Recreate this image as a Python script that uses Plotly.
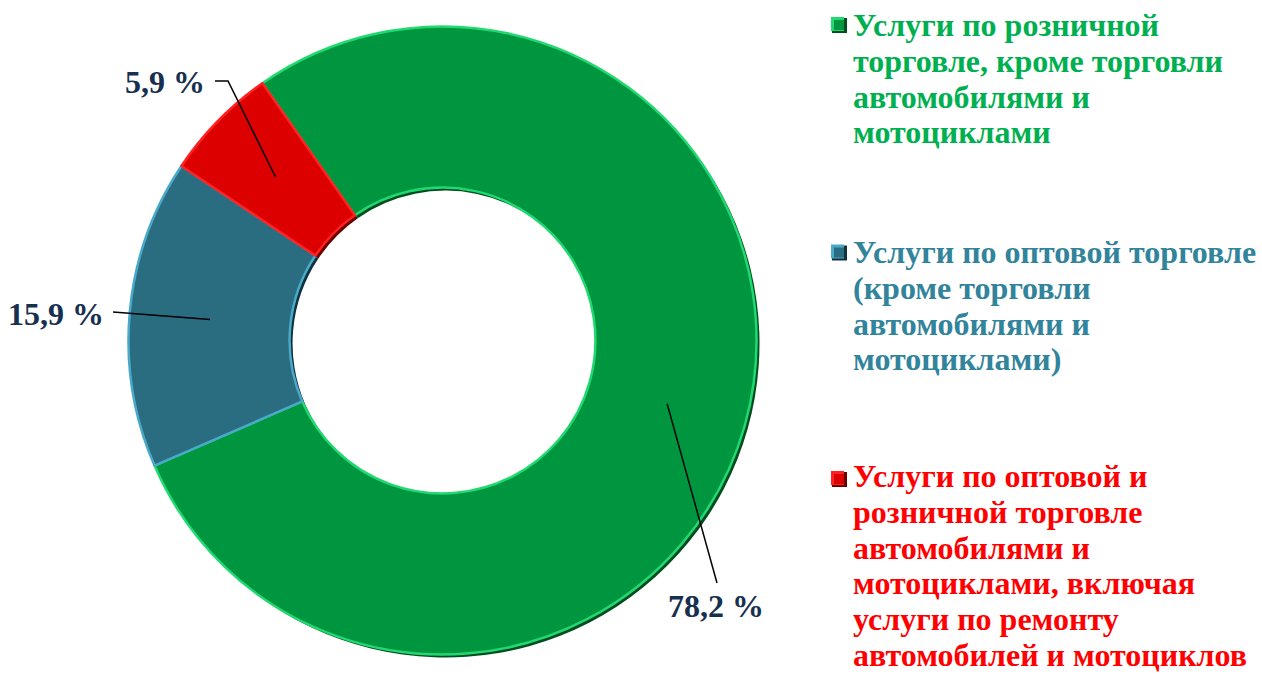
import plotly.graph_objects as go
import math

# ---- data ----
categories = [
    "Услуги по розничной<br>торговле, кроме торговли<br>автомобилями и<br>мотоциклами",
    "Услуги по оптовой торговле<br>(кроме торговли<br>автомобилями и<br>мотоциклами)",
    "Услуги по оптовой и<br>розничной торговле<br>автомобилями и<br>мотоциклами, включая<br>услуги по ремонту<br>автомобилей и мотоциклов",
]
values = [78.2, 15.9, 5.9]

slice_colors = ["#009640", "#2A6C80", "#DC0000"]
edge_colors = ["#22D870", "#4AA9C9", "#FF2020"]
shadow_colors = ["#004d20", "#0f323d", "#6a0000"]
text_colors = ["#00B050", "#31849B", "#FF0000"]
label_color = "#17304F"

W, H = 1262, 675
FONT = "Liberation Serif, Times New Roman, serif"

# pie geometry (pixels)
cx, cy, R = 442.5, 340.5, 314.0
hole = 0.487
rotation = -35.0


def X(px):
    return px / W


def Y(py):
    return 1 - py / H


plain_labels = [c.replace("<br>", " ") for c in categories]

fig = go.Figure()
# shadow layer
sh = 3
fig.add_trace(go.Pie(
    labels=plain_labels, values=values, hole=hole, sort=False,
    direction="clockwise", rotation=rotation,
    domain=dict(x=[X(cx - R + sh), X(cx + R + sh)], y=[Y(cy + R + sh), Y(cy - R + sh)]),
    marker=dict(colors=shadow_colors, line=dict(width=0)),
    textinfo="none", hoverinfo="skip", showlegend=False,
))
fig.add_trace(go.Pie(
    labels=plain_labels, values=values, hole=hole, sort=False,
    direction="clockwise", rotation=rotation,
    domain=dict(x=[X(cx - R), X(cx + R)], y=[Y(cy + R), Y(cy - R)]),
    marker=dict(colors=slice_colors, line=dict(color=edge_colors, width=2.5)),
    textinfo="none", showlegend=False,
    hovertemplate="%{label}: %{value}%<extra></extra>",
))

# slice labels with leader lines
total = sum(values)
rm = R * (1 + hole) / 2
label_pos = [(716, 606), (56, 314), (165, 82)]       # text centres (px)
line_start = [[(717, 583)], [(113, 312)], [(215, 81), (228, 81)]]
annotations = []
shapes = []
cum = 0.0
for i, v in enumerate(values):
    a = math.radians(rotation + (cum + v / 2) / total * 360)
    cum += v
    pxm = cx + rm * math.sin(a)
    pym = cy - rm * math.cos(a)
    pts = line_start[i] + [(pxm, pym)]
    path = "M " + " L ".join(f"{X(p[0]):.5f},{Y(p[1]):.5f}" for p in pts)
    shapes.append(dict(type="path", xref="paper", yref="paper", path=path,
                       line=dict(color="black", width=1.5)))
    txt = f"{v:.1f}".replace(".", ",") + " %"
    annotations.append(dict(
        x=X(label_pos[i][0]), y=Y(label_pos[i][1]), xref="paper", yref="paper",
        text=f"<b>{txt}</b>", showarrow=False, xanchor="center", yanchor="middle",
        font=dict(family=FONT, size=32, color=label_color),
    ))

# legend (text lines + square markers)
first_baseline = [35, 262, 486]
line_step = 35.8
marker_cy = [25.5, 253, 479.5]
for i, c in enumerate(categories):
    for k, line in enumerate(c.split("<br>")):
        base = first_baseline[i] + k * line_step
        annotations.append(dict(
            x=X(851), y=Y(base - 10), xref="paper", yref="paper",
            text="<b>" + line + "</b>", showarrow=False, xanchor="left", yanchor="middle",
            align="left", font=dict(family=FONT, size=32, color=text_colors[i]),
        ))
    m = 7.5
    shapes.append(dict(type="rect", xref="paper", yref="paper",
                       x0=X(832), x1=X(832 + 2 * m), y0=Y(marker_cy[i] - m), y1=Y(marker_cy[i] + m),
                       fillcolor=shadow_colors[i], line=dict(width=0)))
    shapes.append(dict(type="rect", xref="paper", yref="paper",
                       x0=X(831), x1=X(831 + 2 * m - 2), y0=Y(marker_cy[i] - m - 1), y1=Y(marker_cy[i] + m - 2),
                       fillcolor=edge_colors[i], line=dict(width=0)))
    shapes.append(dict(type="rect", xref="paper", yref="paper",
                       x0=X(834), x1=X(832 + 2 * m - 3), y0=Y(marker_cy[i] - m + 2), y1=Y(marker_cy[i] + m - 3),
                       fillcolor=slice_colors[i], line=dict(width=0)))

fig.update_layout(
    width=W, height=H,
    margin=dict(l=0, r=0, t=0, b=0),
    paper_bgcolor="white", plot_bgcolor="white",
    showlegend=False,
    annotations=annotations, shapes=shapes,
)
# remove the browser's default 8px body margin so the figure fills the window
fig.write_html("out.html", config={"displayModeBar": False},
               post_script="document.body.style.margin='0';document.body.style.overflow='hidden';")
